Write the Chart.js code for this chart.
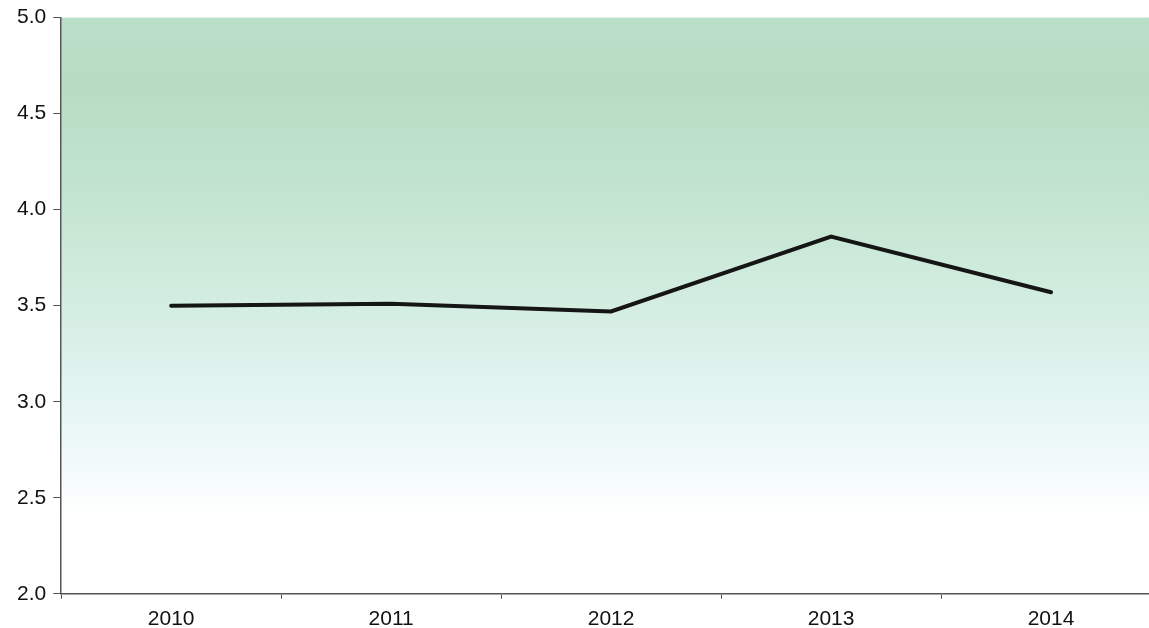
<!DOCTYPE html>
<html>
<head>
<meta charset="utf-8">
<script src="https://cdn.jsdelivr.net/npm/chart.js@4/dist/chart.umd.min.js"></script>
<style>
html,body{margin:0;padding:0;overflow:hidden;background:#fff;width:1149px;height:628px;}
#wrap{position:absolute;left:0;top:-2px;width:1166px;height:648px;}
</style>
</head>
<body>
<div id="wrap"><canvas id="c" width="1166" height="648"></canvas></div>
<script>
const categories = ["2010", "2011", "2012", "2013", "2014"];
const values = [3.50, 3.51, 3.47, 3.86, 3.57];
const yMin = 2.0, yMax = 5.0, yStep = 0.5;

const bgPlugin = {
  id: 'bg',
  beforeDraw(chart) {
    const {ctx, chartArea: a} = chart;
    const g = ctx.createLinearGradient(0, a.top, 0, a.bottom);
    g.addColorStop(0.00, '#badfc9');
    g.addColorStop(0.12, '#b6ddc4');
    g.addColorStop(0.30, '#c2e4cf');
    g.addColorStop(0.45, '#cfebdc');
    g.addColorStop(0.58, '#dbf1ea');
    g.addColorStop(0.68, '#e6f6f4');
    g.addColorStop(0.77, '#f1faf9');
    g.addColorStop(0.83, '#fafdfd');
    g.addColorStop(0.86, '#ffffff');
    g.addColorStop(1.00, '#ffffff');
    ctx.save();
    ctx.fillStyle = g;
    ctx.fillRect(a.left, a.top, a.right - a.left, a.bottom - a.top);
    ctx.restore();
  }
};

new Chart(document.getElementById('c'), {
  type: 'line',
  data: {
    labels: categories,
    datasets: [{
      data: values,
      borderColor: '#151515',
      borderWidth: 4,
      pointRadius: 0,
      tension: 0,
      fill: false,
      borderCapStyle: 'round'
    }]
  },
  options: {
    responsive: false,
    animation: false,
    layout: {padding: {top: 13, left: 10, right: 5, bottom: 6}},
    plugins: {legend: {display: false}, tooltip: {enabled: false}},
    scales: {
      x: {
        offset: true,
        grid: {offset: true, drawOnChartArea: false, drawTicks: true, tickLength: 5, color: '#555', lineWidth: 1},
        border: {color: '#555', width: 1.5},
        ticks: {color: '#111', padding: 8, font: {family: 'Liberation Sans, Arial', size: 21}, maxRotation: 0}
      },
      y: {
        min: yMin, max: yMax,
        grid: {drawOnChartArea: false, drawTicks: true, tickLength: 8, color: '#555', lineWidth: 1},
        border: {color: '#555', width: 1.5},
        ticks: {stepSize: yStep, color: '#111', padding: 7, font: {family: 'Liberation Sans, Arial', size: 21},
          callback: v => Number(v).toFixed(1)}
      }
    }
  },
  plugins: [bgPlugin]
});
</script>
</body>
</html>
